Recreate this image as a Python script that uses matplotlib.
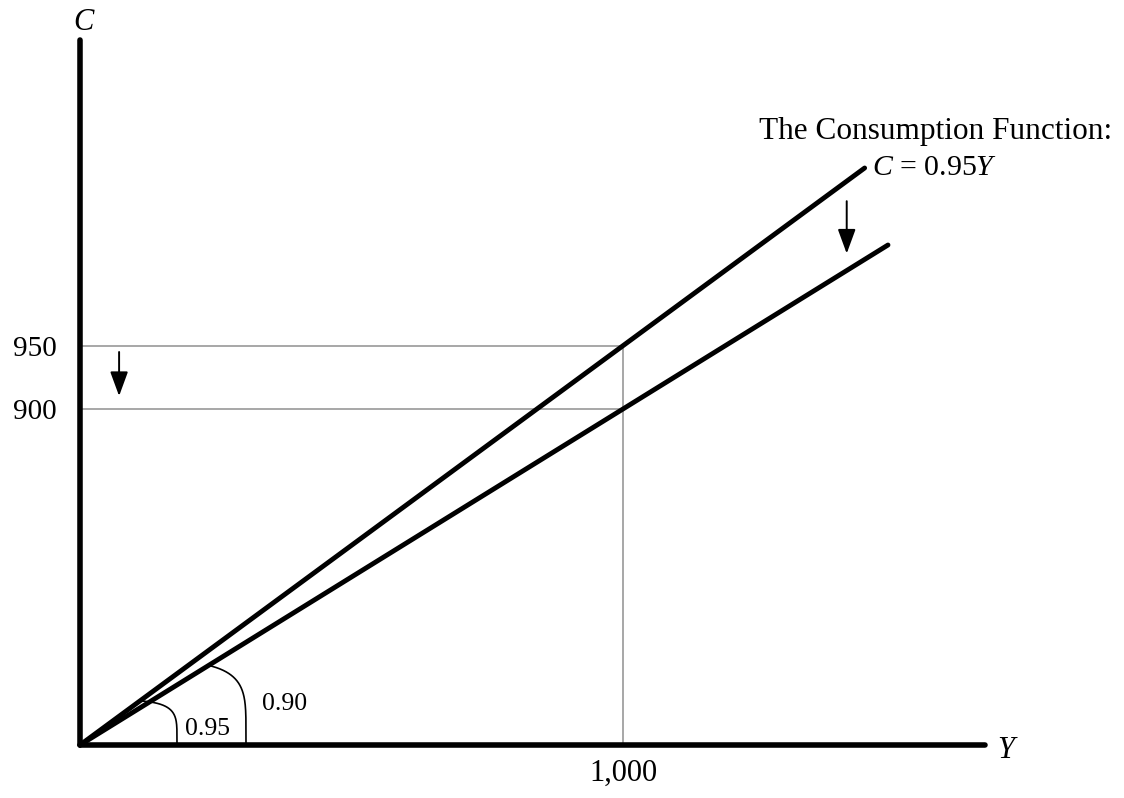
import numpy as np
import matplotlib.pyplot as plt
from matplotlib.transforms import offset_copy, IdentityTransform

plt.rcParams['font.family'] = ['Liberation Serif', 'DejaVu Serif']
plt.rcParams['mathtext.fontset'] = 'custom'
plt.rcParams['mathtext.rm'] = 'Liberation Serif'
plt.rcParams['mathtext.it'] = 'Liberation Serif:italic'

# Data
Y_MARK = 1000                  # income level marked on the Y axis
C_MARKS = [950, 900]           # consumption at Y = 1,000 before / after
MPC = [0.95, 0.90]             # slopes of the two consumption functions
Y_ENDS = [1445, 1488]          # where each line stops
MPC_LABELS = ['0.95', '0.90']
X_TICK_LABEL = '1,000'

# The C axis is not drawn to scale: heights (px above origin) for the key C values
c_ends = [m * y for m, y in zip(MPC, Y_ENDS)]
C_KNOTS = [-200, 0] + sorted(C_MARKS) + sorted(c_ends) + [1700]
H_KNOTS = [-80, 0, 336, 399, 500, 577, 760]
PX_PER_Y = 0.543


def forward(c):
    return np.interp(c, C_KNOTS, H_KNOTS)


def inverse(h):
    return np.interp(h, H_KNOTS, C_KNOTS)


fig = plt.figure(figsize=(11.24, 7.98), dpi=100)
ax = fig.add_axes([0, 0, 1, 1])
ax.set_yscale('function', functions=(forward, inverse))
ax.set_xlim(-80 / PX_PER_Y, 1044 / PX_PER_Y)
ax.set_ylim(inverse(-53), inverse(745))

# axes drawn as thick spines through the origin
for side in ['top', 'right']:
    ax.spines[side].set_visible(False)
ax.spines['left'].set_position(('data', 0))
ax.spines['bottom'].set_position(('data', 0))
ax.spines['left'].set_bounds(0, inverse(705))
ax.spines['bottom'].set_bounds(0, 905 / PX_PER_Y)
for side in ['left', 'bottom']:
    ax.spines[side].set_linewidth(4)
    ax.spines[side].set_capstyle('round')
    ax.spines[side].set_zorder(4)

ax.set_xticks([Y_MARK], [X_TICK_LABEL])
ax.set_yticks(C_MARKS, [str(c) for c in C_MARKS])
ax.minorticks_off()
ax.tick_params(axis='both', length=0, labelsize=21)
ax.tick_params(axis='y', pad=17)
ax.tick_params(axis='x', pad=10, labelsize=22)

# grey guide lines
for c in C_MARKS:
    ax.plot([0, Y_MARK], [c, c], color='#a0a0a0', lw=1.3, zorder=1)
ax.plot([Y_MARK, Y_MARK], [0, max(C_MARKS)], color='#a0a0a0', lw=1.3, zorder=1)

# consumption functions (straight segments from the origin)
o = ax.transData.transform((0, 0))
slopes = []
for m, ye in zip(MPC, Y_ENDS):
    ax.plot([0, ye], [0, m * ye], color='black', lw=3.5,
            solid_capstyle='round', zorder=3)
    pe = ax.transData.transform((ye, m * ye))
    slopes.append((pe[1] - o[1]) / (pe[0] - o[0]))


def on_line(i, y):
    # pixel position of income y on drawn line i
    xd = ax.transData.transform((y, 0))[0]
    return xd, o[1] + slopes[i] * (xd - o[0])


# downward shift arrows
arrow_kw = dict(arrowstyle='-|>,head_length=0.6,head_width=0.22',
                color='black', lw=1.4, mutation_scale=25,
                shrinkA=0, shrinkB=0)
y_arr = 1412
tx, ty = on_line(0, y_arr)
hx, hy = on_line(1, y_arr)
ax.annotate('', xy=(hx, hy + 17), xycoords='figure pixels',
            xytext=(tx, ty - 20), textcoords='figure pixels',
            arrowprops=arrow_kw)
y_arr = 72
ax.annotate('', xy=(y_arr, C_MARKS[1]),
            xycoords=offset_copy(ax.transData, fig, y=13, units='dots'),
            xytext=(y_arr, C_MARKS[0]),
            textcoords=offset_copy(ax.transData, fig, y=-6, units='dots'),
            arrowprops=arrow_kw)

# angle markers (rounded arcs drawn in pixels around the origin)
t = np.linspace(0, np.pi / 2, 600)
n = 5.0
for slope, a, b in zip(slopes, [97, 166], [45, 85]):
    px = a * np.cos(t) ** (2 / n)
    py = b * np.sin(t) ** (2 / n)
    keep = py <= slope * px
    ax.plot(o[0] + px[keep], o[1] + py[keep], color='black', lw=1.2,
            transform=IdentityTransform(), zorder=2)

for lab, (dx, dy) in zip(MPC_LABELS, [(92, 11.5), (147, 29.5)]):
    ax.annotate(lab, xy=(0, 0), xytext=(dx, dy), textcoords='offset points',
                ha='center', va='center', fontsize=18.5)

# labels of the upper line
end = (Y_ENDS[0], MPC[0] * Y_ENDS[0])
ax.annotate(r'$C$ = 0.95$Y$', xy=end, xytext=(5, 0), textcoords='offset points',
            ha='left', va='center', fontsize=21.5)
ax.annotate('The Consumption Function:', xy=end, xytext=(178, 21),
            textcoords='offset points', ha='right', va='baseline', fontsize=22.5)

# axis names
fig.text(83 / 1124, 1 - 23 / 798, 'C', style='italic', fontsize=22,
         ha='center', va='center')
fig.text(1006 / 1124, 1 - 750 / 798, 'Y', style='italic', fontsize=22,
         ha='center', va='center')

fig.savefig('out.png', dpi=100)
